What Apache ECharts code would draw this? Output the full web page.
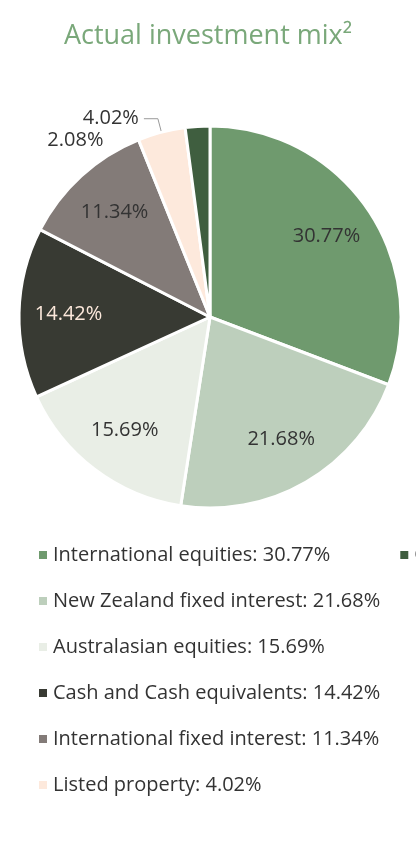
<!DOCTYPE html>
<html>
<head>
<meta charset="utf-8">
<script src="https://cdn.jsdelivr.net/npm/echarts@6/dist/echarts.min.js"></script>
<style>
  html, body { margin: 0; padding: 0; background: #fff; }
  #main { width: 416px; height: 849px; }
</style>
</head>
<body>
<div id="main"></div>
<script>
var categories = [
  "International equities",
  "New Zealand fixed interest",
  "Australasian equities",
  "Cash and Cash equivalents",
  "International fixed interest",
  "Listed property",
  "Other"
];
var values = [30.77, 21.68, 15.69, 14.42, 11.34, 4.02, 2.08];
var colors = ["#6f9a6e", "#bdcfbc", "#e9eee6", "#383a33", "#837b78", "#fde9dc", "#3f5e3f"];

var pieData = categories.map(function (name, i) {
  return { name: name, value: values[i], itemStyle: { color: colors[i] } };
});

// transparent ring used only to place labels further out
var labelData = categories.map(function (name, i) {
  var item = { name: name, value: values[i] };
  if (i == 3) item.label = { color: "#fde9dc" };
  if (i == 5) {
    item.label = { position: "outside" };
    item.labelLine = { show: true, length: 14, length2: 14, lineStyle: { color: "#999" } };
  }
  if (i == 6) {
    item.label = { position: "outside" };
    item.labelLine = { show: false, length: 6, length2: 4 };
  }
  return item;
});

var font = "Open Sans";

var option = {
  title: {
    text: "Actual investment mix²",
    left: "center",
    top: 18,
    textStyle: { color: "#7aa87a", fontSize: 27, fontWeight: "normal", fontFamily: font }
  },
  legend: {
    orient: "vertical",
    left: 32,
    top: 536,
    itemWidth: 10,
    itemHeight: 10,
    itemGap: 18,
    icon: "rect",
    data: categories,
    textStyle: { color: "#333", fontSize: 20, fontFamily: font, lineHeight: 28 },
    formatter: function (name) {
      return name + ": " + values[categories.indexOf(name)].toFixed(2) + "%";
    }
  },
  series: [
    {
      type: "pie",
      center: [210, 317],
      radius: [0, 191],
      startAngle: 90,
      clockwise: true,
      itemStyle: { borderColor: "#fff", borderWidth: 3 },
      label: { show: false },
      labelLine: { show: false },
      data: pieData
    },
    {
      type: "pie",
      center: [210, 317],
      radius: [86, 191],
      startAngle: 90,
      clockwise: true,
      silent: true,
      itemStyle: { color: "transparent" },
      emphasis: { disabled: true },
      label: {
        position: "inner",
        formatter: function (p) { return p.value.toFixed(2) + "%"; },
        color: "#333",
        fontSize: 20,
        fontFamily: font
      },
      labelLine: { show: false },
      data: labelData
    }
  ]
};

var myChart = echarts.init(document.getElementById("main"));
myChart.setOption(option);
</script>
</body>
</html>
